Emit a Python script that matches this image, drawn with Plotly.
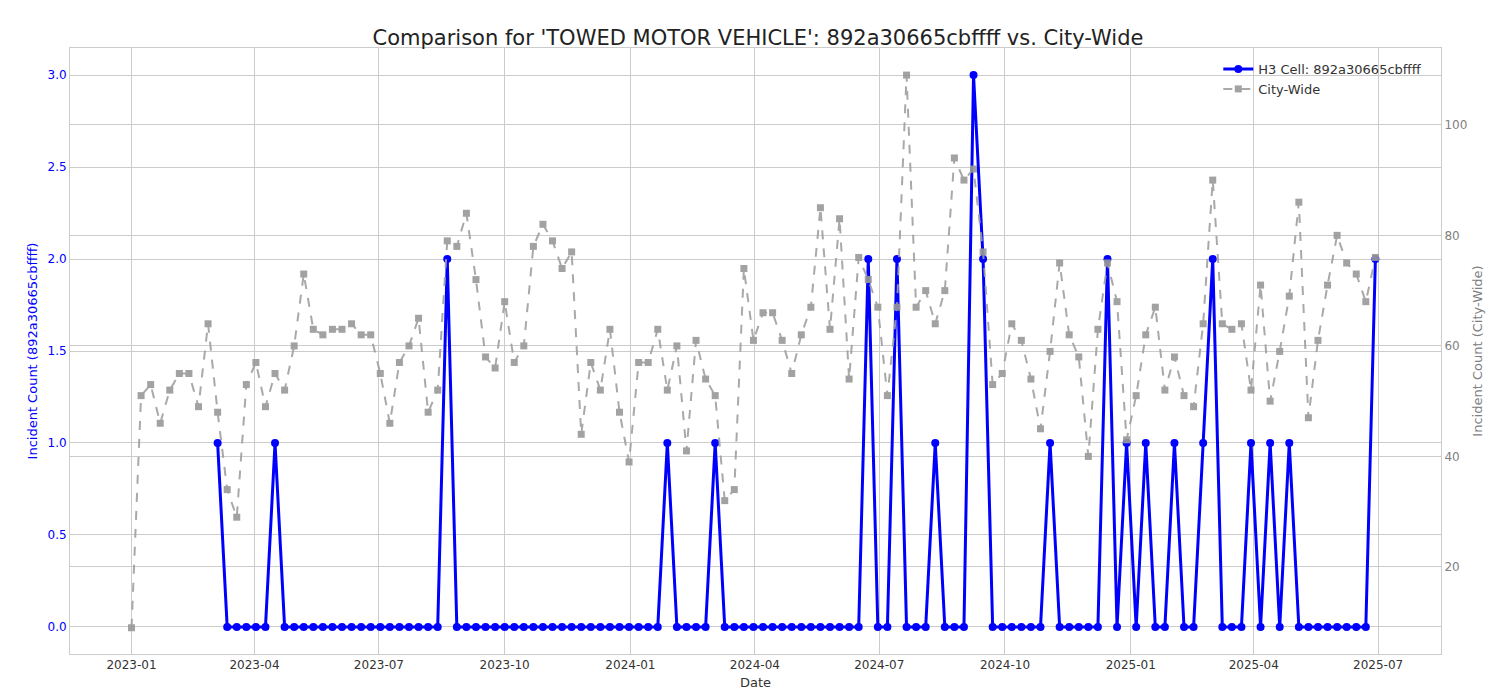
import plotly.graph_objects as go
import pandas as pd

dates = pd.date_range("2023-01-01", periods=131, freq="7D")

city_counts = [9, 51, 53, 46, 52, 55, 55, 49, 64, 48, 34, 29, 53, 57, 49, 55, 52, 60, 73, 63,
               62, 63, 63, 64, 62, 62, 55, 46, 57, 60, 65, 48, 52, 79, 78, 84, 72, 58, 56, 68,
               57, 60, 78, 82, 79, 74, 77, 44, 57, 52, 63, 48, 39, 57, 57, 63, 52, 60, 41, 61,
               54, 51, 32, 34, 74, 61, 66, 66, 61, 55, 62, 67, 85, 63, 83, 54, 76, 72, 67, 51,
               67, 109, 67, 70, 64, 70, 94, 90, 92, 77, 53, 55, 64, 61, 54, 45, 59, 75, 62, 58,
               40, 63, 75, 68, 43, 51, 62, 67, 52, 58, 51, 49, 64, 90, 64, 63, 64, 52, 71, 50,
               59, 69, 86, 47, 61, 71, 80, 75, 73, 68, 76]

cell_nonzero = {9: 1, 15: 1, 33: 2, 56: 1, 61: 1, 77: 2, 80: 2, 84: 1, 88: 3, 89: 2, 96: 1,
                102: 2, 104: 1, 106: 1, 109: 1, 112: 1, 113: 2, 117: 1, 119: 1, 121: 1, 130: 2}
cell_counts = [None] * 9 + [cell_nonzero.get(i, 0) for i in range(9, 131)]

fig = go.Figure()
fig.add_trace(go.Scatter(
    x=dates, y=cell_counts, mode="lines+markers", name="H3 Cell: 892a30665cbffff",
    line=dict(color="#0000ff", width=3), marker=dict(size=8, color="#0000ff"),
))
fig.add_trace(go.Scatter(
    x=dates, y=city_counts, mode="lines+markers", name="City-Wide", yaxis="y2",
    line=dict(color="#a0a0a0", width=2, dash="dash"),
    marker=dict(size=7, symbol="square", color="#999999"), opacity=0.9,
))

fig.update_layout(
    width=1500, height=700,
    font=dict(family="DejaVu Sans", size=12, color="#333333"),
    title=dict(text="Comparison for 'TOWED MOTOR VEHICLE': 892a30665cbffff vs. City-Wide",
               x=0.5, y=0.968, font=dict(size=21, color="#222222")),
    plot_bgcolor="white", paper_bgcolor="white",
    margin=dict(l=62, r=67, t=40, b=54),
    xaxis=dict(title=dict(text="Date", standoff=6, font=dict(size=13)),
               range=["2022-11-17", "2025-08-16"],
               tickvals=pd.date_range("2023-01-01", "2025-07-01", freq="3MS"),
               tickformat="%Y-%m", showgrid=True, gridcolor="#cccccc", automargin=False,
               showline=True, linecolor="#cccccc", mirror=True, ticks=""),
    yaxis=dict(title=dict(text="Incident Count (892a30665cbffff)", standoff=6,
                          font=dict(color="#0000ff", size=13)),
               range=[-0.147, 3.147], dtick=0.5, tickformat=".1f", automargin=False,
               tickfont=dict(color="#0000ff"), showgrid=True, gridcolor="#cccccc",
               zeroline=False, showline=True, linecolor="#cccccc"),
    yaxis2=dict(title=dict(text="Incident Count (City-Wide)", standoff=6,
                           font=dict(color="#808080", size=13)),
                overlaying="y", side="right", range=[4.25, 113.9], dtick=20, automargin=False,
                tickfont=dict(color="#808080"), showgrid=True, gridcolor="#cccccc",
                zeroline=False, showline=True, linecolor="#cccccc"),
    legend=dict(x=0.99, y=0.99, xanchor="right", yanchor="top",
                bgcolor="rgba(255,255,255,0)", font=dict(size=13)),
)

fig.write_html("out.html")
